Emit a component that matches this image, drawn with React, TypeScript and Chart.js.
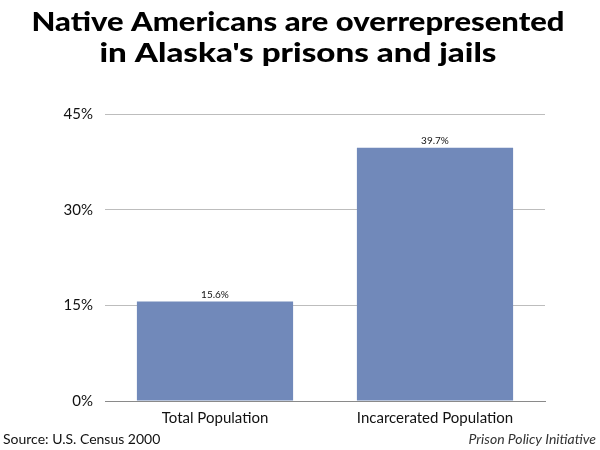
import React, { useEffect, useRef } from "react";
import { Chart, registerables } from "chart.js";

Chart.register(...registerables);

const categories = ["Total Population", "Incarcerated Population"];
const values = [15.6, 39.7];
const valueLabels = ["15.6%", "39.7%"];
const yTicks = [0, 15, 30, 45];
const titleLines = ["Native Americans are overrepresented", "in Alaska's prisons and jails"];
const sourceText = "Source: U.S. Census 2000";
const creditText = "Prison Policy Initiative";

const BAR_COLOR = "#7189ba";
const TITLE_WIDTHS = [533, 397];
const TITLE_Y = [23, 54];

const overlayPlugin = {
  id: "overlay",
  afterDatasetsDraw(chart: any) {
    const ctx = chart.ctx;
    const meta = chart.getDatasetMeta(0);
    ctx.save();
    ctx.fillStyle = "#111";
    ctx.font = "10px 'Lato', sans-serif";
    ctx.textAlign = "center";
    ctx.textBaseline = "bottom";
    meta.data.forEach((bar: any, i: number) => {
      ctx.fillText(valueLabels[i], bar.x, bar.y - 2);
    });
    ctx.restore();
  },
  afterDraw(chart: any) {
    const ctx = chart.ctx;
    ctx.save();
    ctx.fillStyle = "#000";
    ctx.textAlign = "center";
    ctx.textBaseline = "middle";
    ctx.font = "900 26px 'Lato', sans-serif";
    titleLines.forEach((line, i) => {
      const w = ctx.measureText(line).width;
      const s = TITLE_WIDTHS[i] / w;
      ctx.save();
      ctx.translate(298, TITLE_Y[i]);
      ctx.scale(s, 1);
      ctx.fillText(line, 0, 0);
      ctx.restore();
    });
    ctx.font = "14px 'Lato', sans-serif";
    ctx.textAlign = "left";
    ctx.fillStyle = "#111";
    ctx.fillText(sourceText, 3, 439);
    ctx.font = "italic 14px 'Lato', sans-serif";
    ctx.textAlign = "right";
    ctx.fillStyle = "#333";
    ctx.fillText(creditText, 596, 439);
    ctx.restore();
  },
};

export default function App() {
  const ref = useRef<HTMLCanvasElement>(null);
  useEffect(() => {
    if (!ref.current) return;
    const chart = new Chart(ref.current, {
      type: "bar",
      data: {
        labels: categories,
        datasets: [
          {
            data: values,
            backgroundColor: BAR_COLOR,
            categoryPercentage: 1,
            barPercentage: 0.71,
          },
        ],
      },
      options: {
        responsive: false,
        animation: false,
        layout: { padding: { top: 114, right: 55, bottom: 0, left: 0 } },
        plugins: {
          legend: { display: false },
          tooltip: { enabled: false },
          title: { display: false },
        },
        scales: {
          x: {
            grid: { display: false, drawTicks: false },
            border: { display: true, color: "#8a8a8a", width: 1 },
            ticks: {
              color: "#111",
              font: { family: "'Lato', sans-serif", size: 15 },
              padding: 8,
            },
            afterFit(scale: any) {
              scale.height = 49;
            },
          },
          y: {
            min: 0,
            max: 45,
            afterBuildTicks(scale: any) {
              scale.ticks = yTicks.map((v) => ({ value: v }));
            },
            grid: { color: "#bdbdbd", drawTicks: false },
            border: { display: false },
            ticks: {
              color: "#111",
              font: { family: "'Lato', sans-serif", size: 15 },
              padding: 12,
              callback: (v: any) => v + "%",
            },
            afterFit(scale: any) {
              scale.width = 105;
            },
          },
        },
      },
      plugins: [overlayPlugin],
    });
    return () => chart.destroy();
  }, []);
  return (
    <div style={{ position: "fixed", left: 0, top: 0, width: 600, height: 450, background: "#fff" }}>
      <canvas ref={ref} width={600} height={450} />
    </div>
  );
}
